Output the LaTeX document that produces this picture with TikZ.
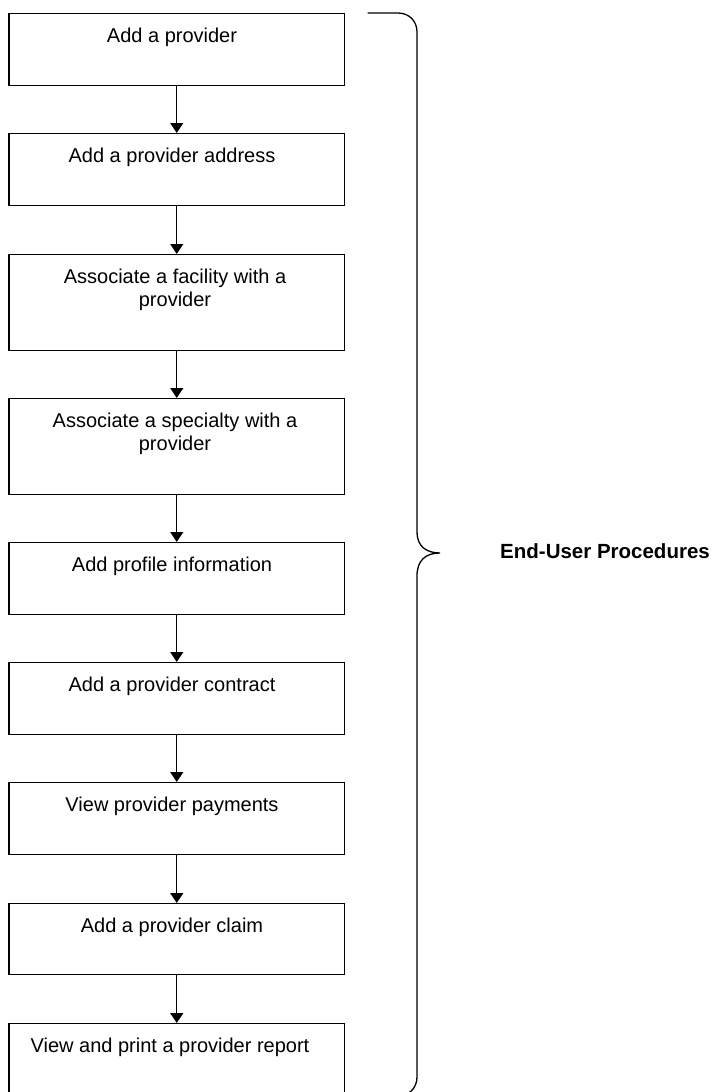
\documentclass[tikz,border=0pt]{standalone}
\usepackage{fontspec}
\setmainfont{Liberation Sans}
\usetikzlibrary{arrows.meta}
\begin{document}
\begin{tikzpicture}[x=1pt,y=-1pt,
  stepbox/.style={draw=black, line width=1.4pt, minimum width=335.5pt,
    inner sep=0pt, anchor=north},
  steptext/.style={font=\fontsize{20}{23}\selectfont, align=center,
    inner sep=0pt, anchor=north},
  flow/.style={line width=1.3pt, -{Triangle[width=13pt,length=10pt]}},
  bracepath/.style={line width=1.3pt, line cap=round},
  grouplabel/.style={font=\bfseries\fontsize{20.5}{24}\selectfont,
    inner sep=0pt, anchor=base west}]
\clip (0,0) rectangle (714,1092);

% procedure boxes
\node[stepbox, minimum height=72pt] (b1) at (176.75,13)  {};
\node[stepbox, minimum height=72pt] (b2) at (176.75,133) {};
\node[stepbox, minimum height=96pt] (b3) at (176.75,254) {};
\node[stepbox, minimum height=96pt] (b4) at (176.75,398) {};
\node[stepbox, minimum height=72pt] (b5) at (176.75,542) {};
\node[stepbox, minimum height=72pt] (b6) at (176.75,662) {};
\node[stepbox, minimum height=72pt] (b7) at (176.75,782) {};
\node[stepbox, minimum height=71pt] (b8) at (176.75,903) {};
\node[stepbox, minimum height=80pt] (b9) at (176.75,1023) {};

% box captions
\node[steptext] (t1) at (172,27.5)   {Add a provider};
\node[steptext] (t2) at (172,147.5)  {Add a provider address};
\node[steptext] (t3) at (175,268.5)  {Associate a facility with a\\provider};
\node[steptext] (t4) at (175,412.5)  {Associate a specialty with a\\provider};
\node[steptext] (t5) at (172,556.5)  {Add profile information};
\node[steptext] (t6) at (172,676.5)  {Add a provider contract};
\node[steptext] (t7) at (172,796.5)  {View provider payments};
\node[steptext] (t8) at (172,917.5)  {Add a provider claim};
\node[steptext] (t9) at (170,1037.5) {View and print a provider report};

% flow arrows
\draw[flow] (b1.south) -- (b2.north);
\draw[flow] (b2.south) -- (b3.north);
\draw[flow] (b3.south) -- (b4.north);
\draw[flow] (b4.south) -- (b5.north);
\draw[flow] (b5.south) -- (b6.north);
\draw[flow] (b6.south) -- (b7.north);
\draw[flow] (b7.south) -- (b8.north);
\draw[flow] (b8.south) -- (b9.north);

% grouping brace
\draw[bracepath] (368,13) -- (398,13)
  .. controls (409,13) and (417,21) .. (417,32)
  -- (417,532)
  .. controls (417,546) and (426,553) .. (440,553)
  .. controls (426,553) and (417,560) .. (417,576)
  -- (417,1077)
  .. controls (417,1088) and (409,1096) .. (398,1096)
  -- (368,1096);

\node[grouplabel] (lbl) at (500,558) {End-User Procedures};
\end{tikzpicture}
\end{document}
